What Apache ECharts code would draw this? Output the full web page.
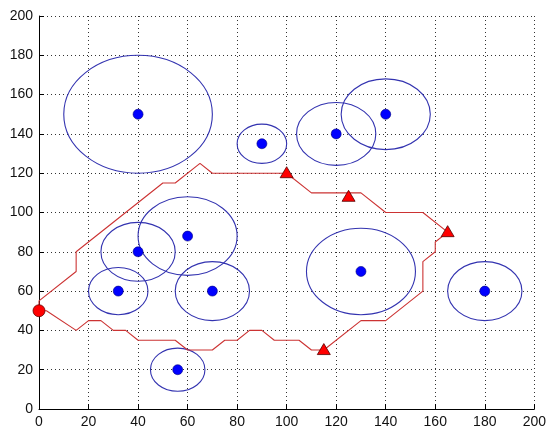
<!DOCTYPE html>
<html>
<head>
<meta charset="utf-8">
<script src="https://cdn.jsdelivr.net/npm/echarts@6/dist/echarts.min.js"></script>
<style>
html,body{margin:0;padding:0;background:#fff;}
#chart{width:549px;height:433px;}
</style>
</head>
<body>
<div id="chart"></div>
<script>
// Blue circles: [centerX, centerY, radius]
var circles = [
  [40, 150, 30],
  [90, 135, 10],
  [120, 140, 16],
  [140, 150, 18],
  [40, 80, 15],
  [60, 88, 20],
  [32, 60, 12],
  [70, 60, 15],
  [130, 70, 22],
  [180, 60, 15],
  [56, 20, 11]
];
// Red path: upper boundary then lower boundary back to start
var upperPath = [[0,50],[0,55],[15,70],[15,80],[50,115],[55,115],[65,125],[70,120],[100,120],[110,110],[130,110],[140,100],[155,100],[165,90]];
var lowerPath = [[165,90],[160,85],[160,80],[155,75],[155,60],[140,45],[130,45],[115,30],[110,30],[105,35],[95,35],[90,40],[85,40],[80,35],[75,35],[70,30],[60,30],[55,35],[40,35],[35,40],[30,40],[25,45],[20,45],[15,40],[3,50],[0,50]];
var triangles = [[100,120.5],[125,108.5],[165,90.5],[115,30.5]];
var startPoint = [[0,50]];
var ticks = [0,20,40,60,80,100,120,140,160,180,200];

var chart = echarts.init(document.getElementById('chart'));
var font = "'Liberation Sans', Arial, sans-serif";
function axisCfg(pos) {
  return {
    type: 'value', min: 0, max: 200, interval: 20, position: pos,
    axisLine: {show: true, onZero: false, lineStyle: {color: '#000', width: 1}},
    axisTick: {show: true, inside: true, length: 5, lineStyle: {color: '#000'}},
    axisLabel: {color: '#111', fontSize: 14, fontFamily: font, margin: 6},
    splitLine: {show: true, lineStyle: {color: '#333', width: 1, type: [1, 3]}}
  };
}
var option = {
  animation: false,
  backgroundColor: '#fff',
  grid: {left: 39, right: 11, top: 16, bottom: 24, containLabel: false},
  xAxis: axisCfg('bottom'),
  yAxis: axisCfg('left'),
  series: [
    {
      type: 'custom',
      data: circles,
      renderItem: function (params, api) {
        var c = api.coord([api.value(0), api.value(1)]);
        var s = api.size([api.value(2), api.value(2)]);
        return {
          type: 'ellipse',
          shape: {cx: c[0], cy: c[1], rx: s[0], ry: s[1]},
          style: {fill: 'none', stroke: '#3333b0', lineWidth: 1.1}
        };
      },
      z: 3
    },
    {
      type: 'line',
      data: upperPath.concat(lowerPath.slice(1)),
      symbol: 'none',
      lineStyle: {color: '#cc3333', width: 1.1},
      z: 4
    },
    {
      type: 'scatter',
      data: circles.map(function (c) { return [c[0], c[1]]; }),
      symbol: 'circle',
      symbolSize: 10,
      itemStyle: {color: '#0000ff', borderColor: '#000080', borderWidth: 0.6, opacity: 1},
      z: 5
    },
    {
      type: 'scatter',
      data: triangles,
      symbol: 'triangle',
      symbolSize: [13, 11],
      itemStyle: {color: '#ff0000', borderColor: '#550000', borderWidth: 0.8, opacity: 1},
      z: 6
    },
    {
      type: 'scatter',
      data: startPoint,
      symbol: 'circle',
      symbolSize: 12,
      clip: false,
      itemStyle: {color: '#ff0000', borderColor: '#660000', borderWidth: 0.8, opacity: 1},
      z: 6
    }
  ]
};
chart.setOption(option);
</script>
</body>
</html>
